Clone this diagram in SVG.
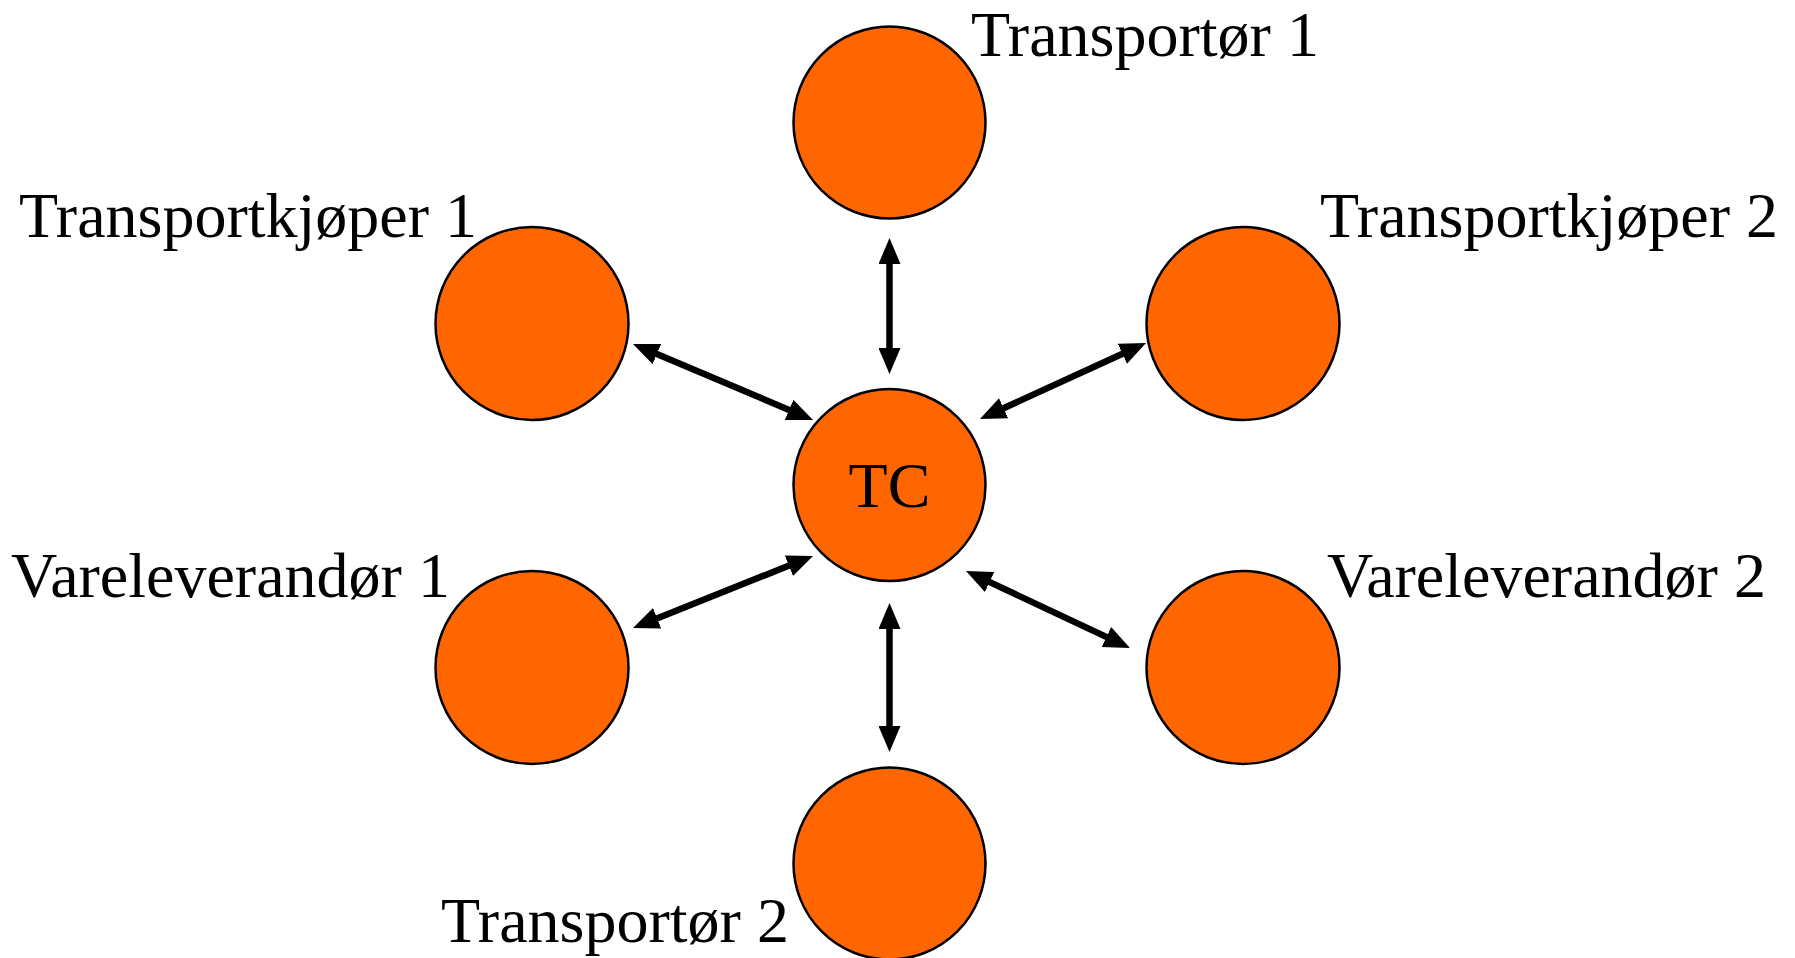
<svg xmlns="http://www.w3.org/2000/svg" width="1795" height="958" viewBox="0 0 1795 958">
<style>
.node{fill:#FF6600;stroke:#000;stroke-width:2.5}
.lbl{font-family:"Liberation Serif","Times New Roman",serif;font-size:64px;fill:#000}
.conn{stroke:#000;stroke-width:6.5;fill:none;marker-start:url(#ah);marker-end:url(#ah)}
</style>
<defs>
<marker id="ah" markerUnits="userSpaceOnUse" viewBox="0 0 26 22" markerWidth="26" markerHeight="22" refX="11" refY="11" orient="auto-start-reverse">
<path d="M0,0 L26,11 L0,22 z" fill="#000"/>
</marker>
</defs>
<rect width="1795" height="958" fill="#fff"/>
<g id="connectors">
<line class="conn" x1="889.5" y1="253" x2="889.5" y2="359"/>
<line class="conn" x1="889.5" y1="618" x2="889.5" y2="737"/>
<line class="conn" x1="646.8" y1="349.8" x2="799.2" y2="414.2"/>
<line class="conn" x1="1132.4" y1="349.2" x2="993.6" y2="412.8"/>
<line class="conn" x1="646.9" y1="622.4" x2="799.1" y2="561.6"/>
<line class="conn" x1="1116.4" y1="641.6" x2="979.6" y2="577.4"/>
</g>
<g id="tc">
<circle class="node" cx="889.5" cy="485" r="96"/>
<text class="lbl" x="889.5" y="507" text-anchor="middle">TC</text>
</g>
<g id="transportor1">
<circle class="node" cx="889.5" cy="122.5" r="96"/>
<text class="lbl" x="971" y="56">Transportør 1</text>
</g>
<g id="transportkjoper1">
<circle class="node" cx="532" cy="323.5" r="96.5"/>
<text class="lbl" x="19" y="237">Transportkjøper 1</text>
</g>
<g id="transportkjoper2">
<circle class="node" cx="1243" cy="323.5" r="96.5"/>
<text class="lbl" x="1320" y="237">Transportkjøper 2</text>
</g>
<g id="vareleverandor1">
<circle class="node" cx="532" cy="667.5" r="96.5"/>
<text class="lbl" x="11" y="597">Vareleverandør 1</text>
</g>
<g id="vareleverandor2">
<circle class="node" cx="1243" cy="667.5" r="96.5"/>
<text class="lbl" x="1327" y="597">Vareleverandør 2</text>
</g>
<g id="transportor2">
<circle class="node" cx="889.5" cy="863.5" r="96"/>
<text class="lbl" x="441" y="942">Transportør 2</text>
</g>
</svg>
